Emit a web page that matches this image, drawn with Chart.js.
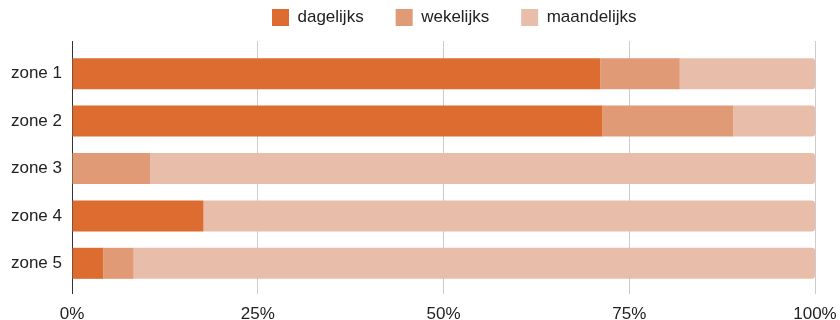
<!DOCTYPE html>
<html>
<head>
<meta charset="utf-8">
<style>
  html, body { margin: 0; padding: 0; background: #ffffff; }
  #wrap { width: 840px; height: 320px; position: relative; }
</style>
<script src="https://cdn.jsdelivr.net/npm/chart.js@4/dist/chart.umd.min.js"></script>
</head>
<body>
<div id="wrap"><canvas id="chart" width="840" height="320"></canvas></div>
<script>
// Share of visits per zone (percent), split by frequency
const zones = ['zone 1', 'zone 2', 'zone 3', 'zone 4', 'zone 5'];
const dagelijks = [71.1, 71.4, 0, 17.7, 4.2];
const wekelijks = [10.7, 17.6, 10.5, 0, 4.1];
const maandelijks = [18.2, 11.0, 89.5, 82.3, 91.7];
const xTicks = [0, 25, 50, 75, 100];

const FONT = "'Liberation Sans', Arial, sans-serif";
const TEXT = '#222222';
const AXIS_DARK = '#333333';
const GRID_LIGHT = '#cccccc';

// Places the legend row and extends the vertical grid lines above the plot area
const layoutTweaks = {
  id: 'layoutTweaks',
  afterLayout(chart) {
    const lg = chart.legend;
    if (lg) {
      const pad = lg.options.labels.padding;
      const w = lg.width;
      lg.left = 272 - pad;
      lg.right = lg.left + w;
      lg.top = 9 - pad;
      lg.bottom = lg.top + lg.height;
    }
  },
  beforeDatasetsDraw(chart) {
    const { ctx, chartArea, scales } = chart;
    const xs = scales.x;
    ctx.save();
    ctx.lineWidth = 1;
    xs.ticks.forEach((t, i) => {
      // same half-pixel alignment Chart.js applies to its grid lines
      const x = Math.round(xs.getPixelForValue(t.value) - 0.5) + 0.5;
      ctx.strokeStyle = i === 0 ? AXIS_DARK : GRID_LIGHT;
      ctx.beginPath();
      ctx.moveTo(x, chartArea.top - 9);
      ctx.lineTo(x, chartArea.top);
      ctx.stroke();
    });
    ctx.restore();
  }
};

new Chart(document.getElementById('chart'), {
  type: 'bar',
  data: {
    labels: zones,
    datasets: [
      { label: 'dagelijks', data: dagelijks, backgroundColor: '#DC6C30' },
      { label: 'wekelijks', data: wekelijks, backgroundColor: '#E19A76' },
      { label: 'maandelijks', data: maandelijks, backgroundColor: '#E8BEAA' }
    ]
  },
  options: {
    indexAxis: 'y',
    responsive: false,
    animation: false,
    devicePixelRatio: 1,
    layout: { padding: { left: 0, right: 25, top: 0, bottom: 0 } },
    datasets: {
      bar: {
        categoryPercentage: 1,
        barPercentage: 0.655,
        borderRadius: 3,
        borderSkipped: 'start'
      }
    },
    plugins: {
      tooltip: { enabled: false },
      legend: {
        position: 'top',
        align: 'start',
        maxHeight: 50,
        labels: {
          boxWidth: 17,
          boxHeight: 17,
          padding: 32,
          color: TEXT,
          font: { family: FONT, size: 17 }
        }
      }
    },
    scales: {
      x: {
        stacked: true,
        min: 0,
        max: 100,
        afterBuildTicks(scale) {
          scale.ticks = xTicks.map(v => ({ value: v }));
        },
        afterFit(scale) {
          scale.height = 33;
          scale.paddingLeft = 0;
          scale.paddingRight = 0;
        },
        grid: {
          color: (c) => (c.index === 0 ? AXIS_DARK : GRID_LIGHT),
          lineWidth: 1,
          tickLength: 7,
          drawOnChartArea: true
        },
        border: { display: false },
        ticks: {
          padding: 10,
          color: TEXT,
          font: { family: FONT, size: 17 },
          maxRotation: 0,
          callback: (v) => v + '%'
        }
      },
      y: {
        stacked: true,
        afterFit(scale) { scale.width = 72; },
        grid: { display: false, drawTicks: false },
        border: { display: false },
        ticks: {
          padding: 10,
          color: TEXT,
          font: { family: FONT, size: 17 }
        }
      }
    }
  },
  plugins: [layoutTweaks]
});
</script>
</body>
</html>
